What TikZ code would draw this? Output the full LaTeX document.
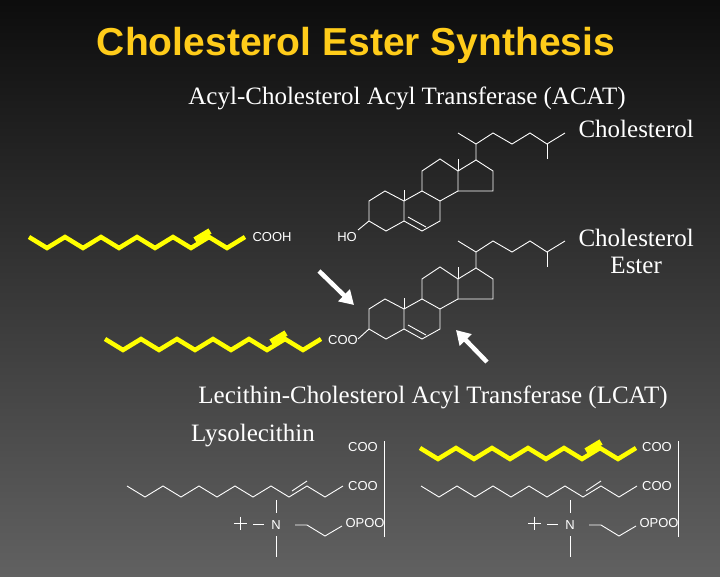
\documentclass[tikz,border=0pt]{standalone}
\usepackage{fontspec}
\setmainfont{Liberation Serif}
\newfontfamily\arialf{Liberation Sans}
\usetikzlibrary{arrows.meta}
\definecolor{ttl}{HTML}{FFCC1A}
\definecolor{chainy}{HTML}{FFFF00}
\tikzset{
  bond/.style={white,line width=0.9pt},
  ychain/.style={chainy,line width=4.5pt,line join=miter},
  lbl/.style={text=white,font=\arialf\fontsize{13}{13}\selectfont,inner sep=0pt},
  head/.style={text=white,font=\fontsize{25}{25}\selectfont,inner sep=0pt},
  bigarrow/.style={white,line width=4.5pt,-{Triangle[length=14pt,width=16pt]}}
}
\newcommand\steroid[1]{%
\begin{scope}[shift={#1}]
\draw[bond,line join=miter] (0,0)--(0,-20)--(16,-30)--(35,-20)--(35,0)--(17,10)--cycle;
\draw[bond] (35,-20)--(53,-30)--(71,-20)--(71,0)--(53,10)--(35,0);
\draw[bond] (39,-4)--(57,6);
\draw[bond] (35,-20)--(35,-31);
\draw[bond] (53,-30)--(53,-50)--(71,-62)--(89,-50)--(89,-30)--(71,-20);
\draw[bond] (89,-50)--(89,-62);
\draw[bond] (89,-50)--(107,-61)--(124,-50)--(124,-30)--(89,-30);
\draw[bond] (107,-61)--(107,-77)--(89,-88);
\draw[bond] (107,-77)--(124,-88)--(143,-77)--(161,-88)--(178,-77)--(196,-88);
\draw[bond] (178,-77)--(178,-62);
\end{scope}}
\newcommand\ychainat[1]{%
\begin{scope}[shift={#1}]
\draw[ychain] (0,0) \foreach \i in {1,...,6}{ -- ++(18,11) -- ++(18,-11)};
\draw[ychain,line width=6pt] (166,3)--(181,-6);
\end{scope}}
\newcommand\wchainat[1]{%
\begin{scope}[shift={#1}]
\draw[bond] (0,0) \foreach \i in {1,...,6}{ -- ++(18,11) -- ++(18,-11)};
\draw[bond] (165,5)--(180,-5);
\end{scope}}
\newcommand\headgroup[2]{%
\begin{scope}[shift={#1}]
\node[lbl] (#2n) at (276,525) {N};
\node[lbl] (#2c1) at (363,447) {COO};
\node[lbl] (#2c2) at (363,486) {COO};
\node[lbl] (#2p) at (365,523) {OPOO};
\draw[bond] (276,500)--(276,513);
\draw[bond] (276,536)--(276,557);
\draw[bond] (234,523)--(247,523);
\draw[bond] (240.5,516.5)--(240.5,529.5);
\draw[bond] (253,524)--(264,524);
\draw[bond] (295,525)--(307,525)--(325,536)--(342,526);
\draw[bond] (384,441)--(384,537);
\end{scope}}
\begin{document}
\begin{tikzpicture}[x=1pt,y=-1pt]
\shade[top color=black!95,bottom color=black!62] (0,0) rectangle (720,576);
\useasboundingbox (0,0) rectangle (720,576);
\node[text=ttl,font=\arialf\bfseries\fontsize{39}{39}\selectfont,inner sep=0pt] (title) at (356,45) {Cholesterol Ester Synthesis};
\node[head] (acat) at (407,98) {Acyl-Cholesterol Acyl Transferase (ACAT)};
\node[head,anchor=east] (chol) at (694,129) {Cholesterol};
\node[head,align=center,anchor=east] (ester) at (694,251) {Cholesterol\\[2pt]Ester};
\node[head] (lcat) at (433,397) {Lecithin-Cholesterol Acyl Transferase (LCAT)};
\node[head,anchor=west] (lyso) at (191,436) {Lysolecithin};
% acid + cholesterol
\steroid{(369,221)}
\node[lbl] (ho) at (347,237) {HO};
\draw[bond] (358,230)--(369,221);
\ychainat{(29,237)}
\node[lbl] (cooh) at (272,237) {COOH};
% ester
\steroid{(369,329)}
\node[lbl] (coo) at (343,340) {COO};
\draw[bond] (358,339)--(369,329);
\ychainat{(105,339)}
% arrows
\coordinate (a1s) at (319,271); \coordinate (a1e) at (354,305);
\coordinate (a2s) at (487,362); \coordinate (a2e) at (456,330);
\draw[bigarrow] (a1s)--(a1e);
\draw[bigarrow] (a2s)--(a2e);
% lecithins
\wchainat{(127,486)}
\headgroup{(0,0)}{L}
\wchainat{(421,486)}
\ychainat{(420,448)}
\headgroup{(294,0)}{R}
\end{tikzpicture}
\end{document}
